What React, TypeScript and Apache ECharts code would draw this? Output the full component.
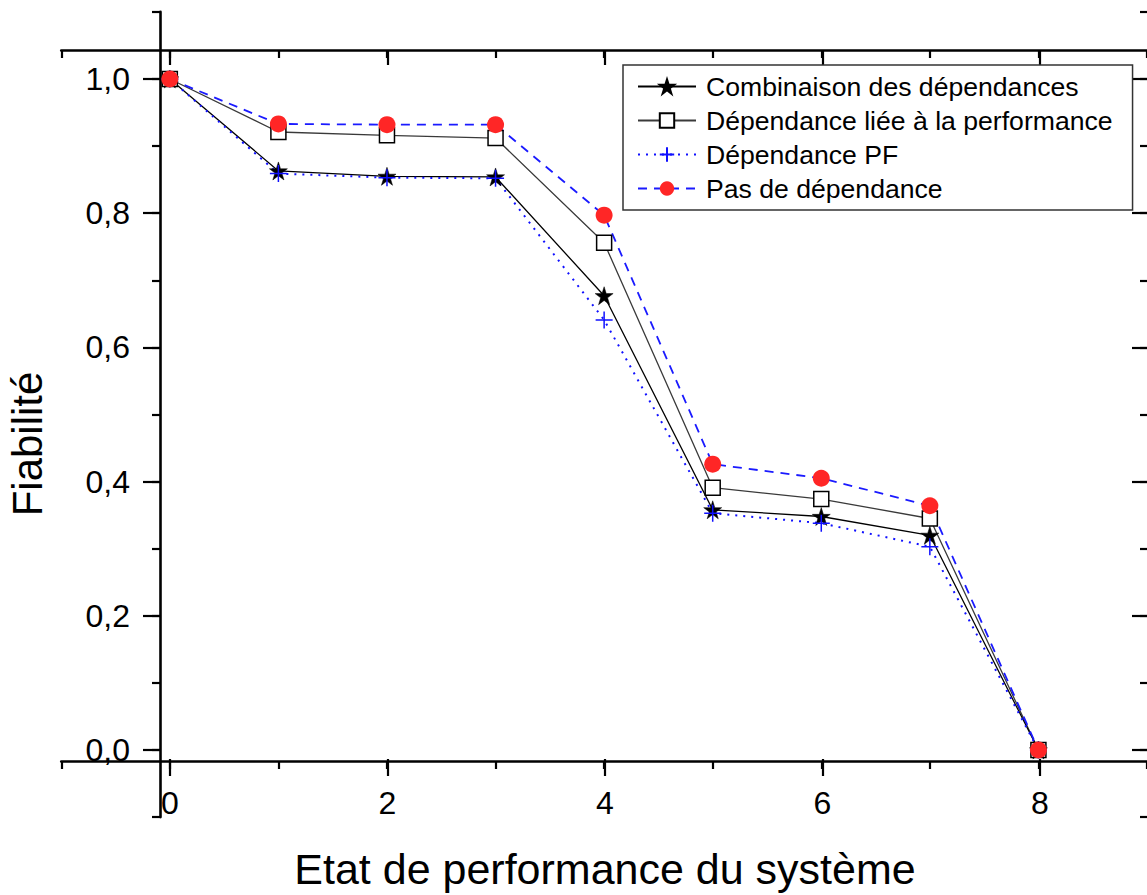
import React, { useEffect, useRef } from "react";
import * as echarts from "echarts";

// ---- data ----
const xStates = [0, 1, 2, 3, 4, 5, 6, 7, 8];
const combinaison = [1.0, 0.863, 0.855, 0.854, 0.677, 0.358, 0.348, 0.32, 0.0];
const liee = [1.0, 0.921, 0.916, 0.912, 0.756, 0.391, 0.374, 0.345, 0.0];
const pf = [1.0, 0.859, 0.853, 0.852, 0.641, 0.353, 0.338, 0.303, 0.0];
const pasDep = [1.0, 0.933, 0.932, 0.932, 0.797, 0.426, 0.405, 0.364, 0.0];
const seriesNames = [
  "Combinaison des dépendances",
  "Dépendance liée à la performance",
  "Dépendance PF",
  "Pas de dépendance",
];
const xTickLabels = ["0", "2", "4", "6", "8"];
const yTickLabels = ["0,0", "0,2", "0,4", "0,6", "0,8", "1,0"];
const xTitle = "Etat de performance du système";
const yTitle = "Fiabilité";

const FONT = "'Liberation Sans', Arial, Helvetica, sans-serif";
const STAR =
  "path://M50,0 L61.2,34.5 L97.6,34.5 L68.2,55.9 L79.4,90.5 L50,69.1 L20.6,90.5 L31.8,55.9 L2.4,34.5 L38.8,34.5 Z";
const PLUS = "path://M5,0 L5,10 M0,5 L10,5";

const pairs = (arr: number[]) => xStates.map((x, i) => [x, arr[i]]);

export default function App() {
  const ref = useRef<HTMLDivElement>(null);
  useEffect(() => {
    if (!ref.current) return;
    const chart = echarts.init(ref.current, null, { renderer: "svg" });
    const axisLineStyle = { color: "#000", width: 2.6 };
    const tickStyle = { color: "#000", width: 2.2 };
    const hiddenX = (g: number) => ({ gridIndex: g, type: "value", min: 0, max: 1, show: false });
    const hiddenY = (g: number) => ({ gridIndex: g, type: "value", min: 0, max: 1, show: false });
    const option: any = {
      animation: false,
      backgroundColor: "#fff",
      grid: [
        { left: 61.25, top: 11.9, width: 1087.5, height: 805.2 }, // data
        { left: 61.25, top: 50, width: 1087.5, height: 711 }, // minor x (top/bottom)
        { left: 170, top: 50, width: 870, height: 711 }, // major x
        { left: 160, top: 11.9, width: 988.75, height: 805.2 }, // minor y
        { left: 160, top: 79, width: 988.75, height: 671 }, // major y
      ],
      xAxis: [
        { gridIndex: 0, type: "value", min: -1, max: 9, show: false },
        {
          gridIndex: 1, type: "value", min: -1, max: 9, interval: 1, position: "bottom",
          axisLine: { show: true, onZero: false, lineStyle: axisLineStyle },
          axisTick: { show: true, length: 8, lineStyle: tickStyle },
          axisLabel: { show: false }, splitLine: { show: false },
        },
        {
          gridIndex: 1, type: "value", min: -1, max: 9, interval: 1, position: "top",
          axisLine: { show: true, onZero: false, lineStyle: axisLineStyle },
          axisTick: { show: true, inside: true, length: 8, lineStyle: tickStyle },
          axisLabel: { show: false }, splitLine: { show: false },
        },
        {
          gridIndex: 2, type: "value", min: 0, max: 8, interval: 2, position: "bottom",
          axisLine: { show: false, onZero: false },
          axisTick: { show: true, length: 17, lineStyle: tickStyle },
          axisLabel: {
            show: true, fontSize: 32, fontFamily: FONT, color: "#000", margin: 28,
            formatter: (v: number) => xTickLabels[Math.round(v / 2)] ?? "",
          },
          splitLine: { show: false },
          name: xTitle, nameLocation: "middle", nameGap: 88,
          nameTextStyle: { fontSize: 43, fontFamily: FONT, color: "#000" },
        },
        {
          gridIndex: 2, type: "value", min: 0, max: 8, interval: 2, position: "top",
          axisLine: { show: false, onZero: false },
          axisTick: { show: true, inside: true, length: 15, lineStyle: tickStyle },
          axisLabel: { show: false }, splitLine: { show: false },
        },
        hiddenX(3),
        hiddenX(4),
      ],
      yAxis: [
        { gridIndex: 0, type: "value", min: -0.1, max: 1.1, show: false },
        hiddenY(1),
        hiddenY(2),
        {
          gridIndex: 3, type: "value", min: -0.1, max: 1.1, interval: 0.1, position: "left",
          axisLine: { show: true, onZero: false, lineStyle: axisLineStyle },
          axisTick: { show: true, length: 8, lineStyle: tickStyle },
          axisLabel: { show: false }, splitLine: { show: false },
        },
        {
          gridIndex: 3, type: "value", min: -0.1, max: 1.1, interval: 0.1, position: "right",
          axisLine: { show: false, onZero: false },
          axisTick: { show: true, inside: true, length: 7, lineStyle: tickStyle },
          axisLabel: { show: false }, splitLine: { show: false },
        },
        {
          gridIndex: 4, type: "value", min: 0, max: 1, interval: 0.2, position: "left",
          axisLine: { show: false, onZero: false },
          axisTick: { show: true, length: 17, lineStyle: tickStyle },
          axisLabel: {
            show: true, fontSize: 32, fontFamily: FONT, color: "#000", margin: 30,
            formatter: (v: number) => yTickLabels[Math.round(v / 0.2)] ?? "",
          },
          splitLine: { show: false },
        },
        {
          gridIndex: 4, type: "value", min: 0, max: 1, interval: 0.2, position: "right",
          axisLine: { show: false, onZero: false },
          axisTick: { show: true, inside: true, length: 15, lineStyle: tickStyle },
          axisLabel: { show: false }, splitLine: { show: false },
        },
      ],
      legend: {
        data: seriesNames,
        orient: "vertical",
        left: 623,
        top: 65,
        itemWidth: 58,
        itemHeight: 18,
        itemGap: 7,
        padding: [8, 20, 8, 14],
        borderColor: "#333",
        borderWidth: 1.5,
        backgroundColor: "#fff",
        textStyle: { fontSize: 26.6, fontFamily: FONT, color: "#000", padding: [0, 0, 0, 5] },
      },
      graphic: [
        {
          type: "text", x: 27, y: 444, rotation: Math.PI / 2,
          style: { text: yTitle, font: `42px ${FONT}`, fill: "#000", align: "center", verticalAlign: "middle" },
        },
      ],
      series: [
        {
          name: seriesNames[1], type: "line", xAxisIndex: 0, yAxisIndex: 0,
          data: pairs(liee), symbol: "rect", symbolSize: 15,
          lineStyle: { color: "#3a3a3a", width: 1.3 },
          itemStyle: { color: "#fff", borderColor: "#000", borderWidth: 1.5 },
        },
        {
          name: seriesNames[0], type: "line", xAxisIndex: 0, yAxisIndex: 0,
          data: pairs(combinaison), symbol: STAR, symbolSize: 18,
          lineStyle: { color: "#000", width: 1.3 },
          itemStyle: { color: "#000", borderColor: "#000", borderWidth: 0.5 },
        },
        {
          name: seriesNames[2], type: "line", xAxisIndex: 0, yAxisIndex: 0,
          data: pairs(pf), symbol: PLUS, symbolSize: 17,
          lineStyle: { color: "#1010ff", width: 2, type: [2, 6] },
          itemStyle: { color: "rgba(0,0,0,0)", borderColor: "#1010ff", borderWidth: 1.5 },
        },
        {
          name: seriesNames[3], type: "line", xAxisIndex: 0, yAxisIndex: 0,
          data: pairs(pasDep), symbol: "circle", symbolSize: 17,
          lineStyle: { color: "#1a1aff", width: 1.8, type: [9, 7] },
          itemStyle: { color: "#ff2626", borderWidth: 0 },
        },
      ],
    };
    chart.setOption(option);
    return () => chart.dispose();
  }, []);
  return (
    <div
      ref={ref}
      style={{ position: "fixed", left: 0, top: 0, width: 1147, height: 895, background: "#fff" }}
    />
  );
}
